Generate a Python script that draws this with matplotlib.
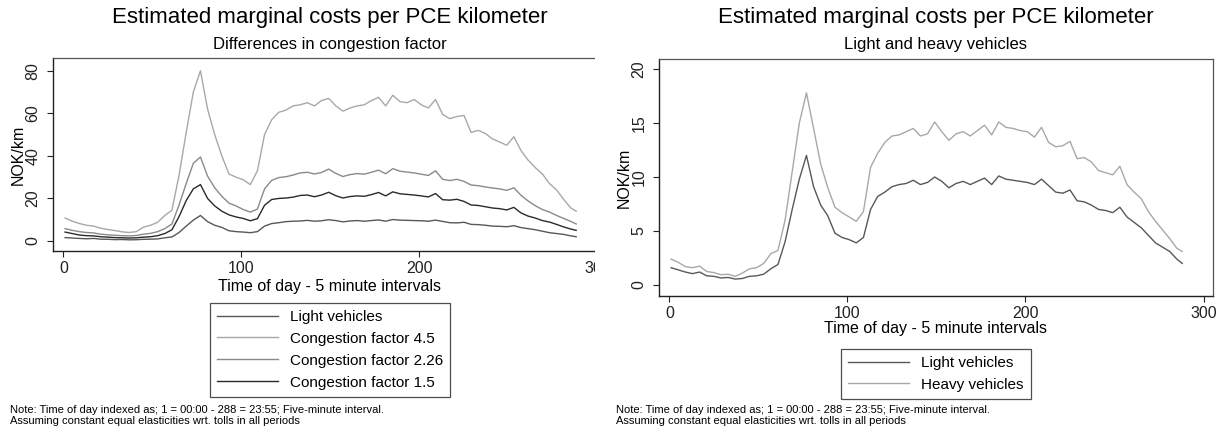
import matplotlib
matplotlib.use("Agg")
import matplotlib.pyplot as plt
from matplotlib.patches import Rectangle

plt.rcParams['font.family'] = ['Liberation Sans', 'DejaVu Sans']

# time of day index (5 minute intervals), sampled every 4th interval
interval = [1, 5, 9, 13, 17, 21, 25, 29, 33, 37, 41, 45, 49, 53, 57, 61, 65, 69, 73, 77,
            81, 85, 89, 93, 97, 101, 105, 109, 113, 117, 121, 125, 129, 133, 137, 141,
            145, 149, 153, 157, 161, 165, 169, 173, 177, 181, 185, 189, 193, 197, 201,
            205, 209, 213, 217, 221, 225, 229, 233, 237, 241, 245, 249, 253, 257, 261,
            265, 269, 273, 277, 281, 285, 288]

light = [1.6, 1.4, 1.2, 1.05, 1.2, 0.85, 0.8, 0.65, 0.7, 0.55, 0.6, 0.8, 0.85, 1.0, 1.5,
         1.9, 4.0, 7.0, 9.8, 12.0, 9.1, 7.4, 6.4, 4.8, 4.4, 4.2, 3.9, 4.4, 7.0, 8.2, 8.6,
         9.1, 9.3, 9.4, 9.7, 9.3, 9.5, 10.0, 9.6, 9.0, 9.4, 9.6, 9.3, 9.6, 9.9, 9.3, 10.1,
         9.8, 9.7, 9.6, 9.5, 9.3, 9.8, 9.2, 8.6, 8.5, 8.8, 7.8, 7.7, 7.4, 7.0, 6.9, 6.7,
         7.2, 6.3, 5.8, 5.3, 4.6, 3.9, 3.5, 3.1, 2.4, 2.0]

heavy = [2.4, 2.1, 1.7, 1.6, 1.75, 1.25, 1.15, 0.95, 1.0, 0.8, 1.1, 1.5, 1.6, 2.0, 2.9,
         3.2, 6.0, 10.5, 15.0, 17.8, 14.5, 11.2, 9.0, 7.2, 6.7, 6.3, 5.9, 6.8, 10.9, 12.2,
         13.2, 13.8, 13.9, 14.2, 14.5, 13.8, 14.0, 15.1, 14.2, 13.4, 14.0, 14.2, 13.8,
         14.3, 14.8, 13.9, 15.1, 14.6, 14.5, 14.3, 14.2, 13.7, 14.6, 13.2, 12.8, 12.9,
         13.3, 11.7, 11.8, 11.4, 10.6, 10.4, 10.2, 11.0, 9.3, 8.6, 8.0, 6.8, 5.9, 5.1,
         4.3, 3.4, 3.1]

cf_45 = [10.8, 9.3, 8.2, 7.4, 7.0, 6.0, 5.4, 4.9, 4.3, 4.0, 4.4, 6.5, 7.4, 8.8, 12.0,
         14.5, 31.0, 51.0, 70.0, 80.0, 62.0, 50.0, 40.0, 31.5, 30.0, 28.8, 26.5, 33.0,
         50.0, 57.0, 60.5, 61.5, 63.5, 64.0, 65.0, 63.5, 66.0, 67.0, 63.5, 61.0, 62.5,
         63.5, 64.0, 66.0, 67.5, 63.5, 68.5, 65.5, 65.0, 66.5, 64.0, 62.5, 66.5, 59.5,
         57.5, 58.5, 59.0, 51.0, 52.0, 50.5, 48.0, 46.5, 45.0, 49.0, 42.5, 38.0, 34.5,
         31.5, 27.0, 24.0, 19.5, 15.5, 14.0]

cf_226 = [5.8, 5.0, 4.4, 4.0, 3.8, 3.2, 2.9, 2.7, 2.5, 2.4, 2.6, 3.2, 3.6, 4.4, 5.8, 8.0,
          17.0, 27.0, 36.5, 39.5, 30.5, 25.0, 21.0, 17.8, 16.5, 14.8, 13.6, 15.0, 24.5,
          28.5, 29.8, 30.2, 31.0, 32.0, 32.3, 31.5, 32.2, 33.8, 31.8, 30.3, 31.2, 31.7,
          31.4, 32.3, 33.3, 31.6, 34.0, 32.8, 32.4, 32.0, 31.4, 30.8, 33.0, 29.0, 28.4,
          29.0, 28.0, 26.3, 26.0, 25.4, 24.9, 24.5, 23.8, 25.0, 21.5, 18.8, 16.6, 14.8,
          13.6, 12.0, 10.6, 9.2, 8.0]

cf_15 = [4.2, 3.5, 2.8, 2.5, 2.4, 2.0, 1.8, 1.6, 1.5, 1.4, 1.5, 1.8, 2.0, 2.5, 3.5, 5.3,
         11.5, 19.0, 24.5, 26.5, 20.0, 16.5, 14.0, 12.3, 11.3, 10.6, 9.5, 10.5, 16.8,
         19.5, 20.0, 20.2, 20.6, 21.4, 21.6, 20.8, 21.6, 22.9, 21.3, 20.2, 20.9, 21.2,
         21.0, 21.8, 22.8, 21.2, 23.1, 22.2, 21.9, 21.6, 21.2, 20.7, 22.3, 19.4, 19.2,
         19.6, 18.6, 16.9, 16.7, 16.1, 15.5, 15.2, 14.6, 15.8, 13.2, 11.7, 10.8, 9.6,
         8.9, 7.8, 6.6, 5.6, 5.0]

title = "Estimated marginal costs per PCE kilometer"
note1 = "Note: Time of day indexed as; 1 = 00:00 - 288 = 23:55; Five-minute interval."
note2 = "Assuming constant equal elasticities wrt. tolls in all periods"

W, H = 1218, 432
fig = plt.figure(figsize=(W / 100, H / 100), dpi=100)


def fx(px):
    return px / W


def fy(py):
    return 1 - py / H


def style_axes(ax, yticks):
    ax.set_xlim(-5.8, 305.3)
    ax.set_xticks([0, 100, 200, 300])
    ax.set_yticks(yticks)
    ax.tick_params(axis='both', direction='out', length=4, width=0.8,
                   labelsize=11.5, colors='#222222')
    ax.tick_params(axis='y', pad=5)
    ax.tick_params(axis='x', pad=3)
    for lab in ax.get_yticklabels():
        lab.set_rotation(90)
        lab.set_va('center')
    for side in ['left', 'bottom']:
        ax.spines[side].set_color('#222222')
        ax.spines[side].set_linewidth(1.0)
    for side in ['top', 'right']:
        ax.spines[side].set_color('#555555')
        ax.spines[side].set_linewidth(0.9)


# left panel
ax1 = fig.add_axes([fx(53), fy(251), fx(607 - 53), (251 - 58) / H])
ax1.plot(interval, light, color='#585858', lw=1.0, label='Light vehicles')
ax1.plot(interval, cf_45, color='#a8a8a8', lw=1.0, label='Congestion factor 4.5')
ax1.plot(interval, cf_226, color='#8a8a8a', lw=1.0, label='Congestion factor 2.26')
ax1.plot(interval, cf_15, color='#2a2a2a', lw=1.0, label='Congestion factor 1.5')
ax1.set_ylim(-4.7, 86.0)
style_axes(ax1, [0, 20, 40, 60, 80])
ax1.spines['right'].set_visible(False)

# right panel
ax2 = fig.add_axes([fx(659), fy(296), fx(1213 - 659), (296 - 59) / H])
ax2.plot(interval, light, color='#585858', lw=1.0, label='Light vehicles')
ax2.plot(interval, heavy, color='#a8a8a8', lw=1.0, label='Heavy vehicles')
ax2.set_ylim(-1.02, 20.93)
style_axes(ax2, [0, 5, 10, 15, 20])

# the left graph is cut off at its right edge
fig.patches.append(Rectangle((fx(595), fy(300)), fx(17), 300 / H,
                             transform=fig.transFigure, facecolor='white',
                             edgecolor='none', zorder=10))

subtitles = ["Differences in congestion factor", "Light and heavy vehicles"]
centers = [330, 936]
xlab_y = [286, 329]
leg_top = [303, 349]
for i, ax in enumerate([ax1, ax2]):
    cx = centers[i]
    fig.text(fx(cx), fy(18), title, ha='center', va='center', fontsize=16)
    fig.text(fx(cx), fy(45), subtitles[i], ha='center', va='center', fontsize=12)
    fig.text(fx(cx), fy(xlab_y[i]), "Time of day - 5 minute intervals",
             ha='center', va='center', fontsize=11.5)
    fig.text(fx(cx - 312), fy(155 if i == 0 else 178), "NOK/km", rotation=90,
             ha='center', va='center', fontsize=11.5)
    handles, labels = ax.get_legend_handles_labels()
    leg = fig.legend(handles, labels, loc='upper center',
                     bbox_to_anchor=(fx(cx), fy(leg_top[i])),
                     fontsize=11, frameon=True, fancybox=False,
                     handlelength=4.0, handletextpad=0.8, labelspacing=0.52,
                     borderpad=0.45, borderaxespad=0)
    leg.get_frame().set_edgecolor('#222222')
    leg.get_frame().set_linewidth(0.9)
    nx = 10 if i == 0 else 616
    fig.text(fx(nx), fy(410), note1, ha='left', va='center', fontsize=8.0)
    fig.text(fx(nx), fy(421), note2, ha='left', va='center', fontsize=8.0)

fig.savefig("out.png", dpi=100)
